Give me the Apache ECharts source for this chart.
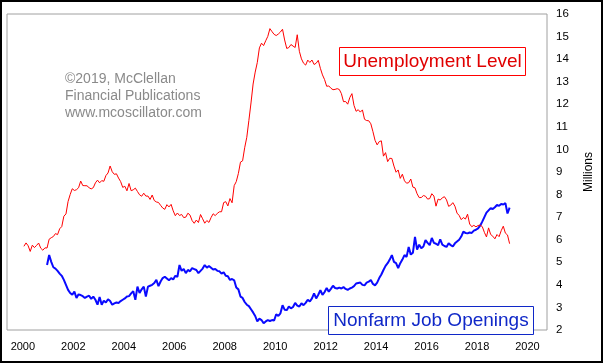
<!DOCTYPE html>
<html>
<head>
<meta charset="utf-8">
<script src="https://cdn.jsdelivr.net/npm/echarts@6/dist/echarts.min.js"></script>
<style>
html,body{margin:0;padding:0;background:#fff;}
#chart{width:603px;height:363px;}
</style>
</head>
<body>
<div id="chart"></div>
<script>
// Unemployment level (millions), monthly from Jan 2000
const unempStart = [2000, 1];
const unemployment = [
5.708,5.858,5.733,5.481,5.758,5.651,5.747,5.853,5.625,5.534,5.639,5.634,
6.023,6.089,6.141,6.271,6.226,6.484,6.583,7.042,7.142,7.694,8.003,8.258,
8.182,8.215,8.304,8.599,8.399,8.393,8.390,8.304,8.251,8.307,8.520,8.640,
8.520,8.618,8.588,8.842,8.957,9.266,9.011,8.896,8.921,8.732,8.576,8.317,
8.370,8.167,8.491,8.170,8.212,8.286,8.136,7.990,7.927,8.061,7.932,7.934,
7.784,7.980,7.737,7.672,7.651,7.524,7.406,7.345,7.553,7.453,7.566,7.279,
7.064,7.184,7.072,7.120,6.980,7.001,7.175,7.091,6.847,6.727,6.872,6.762,
7.116,6.927,6.731,6.850,6.766,6.979,7.149,7.067,7.170,7.237,7.240,7.645,
7.685,7.497,7.822,7.637,8.395,8.575,8.937,9.438,9.494,10.074,10.538,11.286,
12.058,12.898,13.426,13.853,14.499,14.707,14.601,14.814,15.009,15.352,15.219,15.098,
15.046,15.113,15.202,15.325,14.849,14.474,14.512,14.648,14.579,14.516,15.081,14.348,
14.013,13.820,13.737,13.957,13.855,13.962,13.763,13.818,13.948,13.594,13.302,13.093,
12.797,12.813,12.713,12.646,12.660,12.692,12.656,12.471,12.115,12.124,12.005,12.298,
12.471,11.950,11.689,11.760,11.654,11.751,11.335,11.279,11.270,11.136,10.787,10.404,
10.202,10.349,10.380,9.702,9.859,9.460,9.608,9.599,9.262,8.990,9.090,8.717,
8.903,8.610,8.504,8.526,8.689,8.331,8.298,8.035,7.866,7.869,7.957,7.926,
7.800,7.821,8.038,7.935,7.486,7.800,7.757,7.857,7.905,7.767,7.479,7.531,
7.642,7.486,7.177,7.076,6.890,6.983,6.916,7.131,6.695,6.576,6.636,6.572,
6.628,6.650,6.580,6.327,6.123,6.524,6.231,6.156,6.039,6.229,6.135,6.399,
6.599,6.290,6.211,5.824
];

// Nonfarm job openings (millions), monthly from Dec 2000
const openStart = [2000, 12];
const jobOpenings = [
4.88,
5.32,5.02,4.78,4.72,4.62,4.50,4.40,4.22,4.00,3.78,3.64,3.56,
3.70,3.42,3.58,3.55,3.50,3.42,3.48,3.52,3.38,3.48,3.34,3.12,
3.46,3.12,3.30,3.22,3.36,3.28,3.12,3.18,3.22,3.20,3.28,3.34,
3.40,3.48,3.50,3.62,3.72,3.34,3.92,3.64,3.80,3.92,3.48,3.92,
3.96,4.00,4.08,4.22,3.94,4.15,4.30,4.36,4.28,4.20,4.30,4.24,
4.40,4.36,4.88,4.62,4.70,4.52,4.66,4.60,4.74,4.70,4.66,4.52,
4.62,4.72,4.88,4.76,4.84,4.76,4.68,4.70,4.62,4.60,4.50,4.56,
4.40,4.38,4.22,4.26,4.20,3.88,3.80,3.48,3.42,3.24,3.12,3.06,
2.92,2.78,2.62,2.38,2.50,2.44,2.30,2.38,2.44,2.40,2.44,2.42,
2.70,2.62,2.74,3.10,2.90,2.88,3.04,2.96,3.02,3.20,3.08,3.04,
3.18,3.10,3.20,3.34,3.26,3.40,3.62,3.40,3.56,3.76,3.56,3.68,
3.86,3.70,3.82,3.96,3.86,3.84,3.88,3.84,3.90,3.82,3.78,3.84,
3.88,3.94,4.06,4.08,4.10,4.00,3.98,4.10,4.14,4.22,4.04,3.98,
4.10,4.30,4.46,4.66,4.84,4.96,5.12,5.32,5.02,4.96,4.74,4.96,
5.12,5.32,5.24,5.68,5.34,5.42,6.12,5.56,5.78,5.62,5.70,5.98,
5.86,5.76,6.08,5.86,5.82,5.76,6.02,5.78,5.72,5.68,5.84,5.76,
5.70,5.84,5.92,6.00,6.14,6.36,6.30,6.28,6.32,6.30,6.40,6.44,
6.50,6.62,6.80,7.00,7.20,7.30,7.40,7.36,7.44,7.54,7.50,7.58,
7.56,7.62,7.16,7.42
];

const yearLabels = [2000,2002,2004,2006,2008,2010,2012,2014,2016,2018,2020];
const yTicks = {min: 2, max: 16, interval: 1};

function toSeries(start, values) {
  return values.map((v, i) => {
    const m = start[1] - 1 + i;
    const x = start[0] + Math.floor(m / 12) + ((m % 12) + 0.5) / 12;
    return [x, v];
  });
}

const chart = echarts.init(document.getElementById('chart'), null, {renderer: 'canvas'});
const FONT = '"Liberation Sans", Arial, sans-serif';

chart.setOption({
  animation: false,
  backgroundColor: '#ffffff',
  grid: {
    left: 7, top: 14, width: 545, height: 316,
    show: true, borderColor: '#a0a0a0', borderWidth: 1, backgroundColor: 'transparent'
  },
  xAxis: {
    type: 'value',
    min: 1999.371, max: 2020.774,
    axisLine: {show: false},
    axisTick: {show: false},
    splitLine: {show: false},
    axisLabel: {
      customValues: yearLabels,
      formatter: v => String(Math.round(v)),
      color: '#000', fontFamily: FONT, fontSize: 11, margin: 11
    }
  },
  yAxis: {
    type: 'value',
    position: 'right',
    min: yTicks.min, max: yTicks.max, interval: yTicks.interval,
    axisLine: {show: false},
    axisTick: {show: false},
    splitLine: {show: false},
    axisLabel: {color: '#000', fontFamily: FONT, fontSize: 11.5, margin: 9},
    name: 'Millions',
    nameLocation: 'middle',
    nameRotate: 90,
    nameGap: 36,
    nameTextStyle: {color: '#000', fontFamily: FONT, fontSize: 12}
  },
  series: [
    {
      name: 'Nonfarm Job Openings', type: 'line', data: toSeries(openStart, jobOpenings),
      showSymbol: false, symbol: 'none', z: 2,
      lineStyle: {color: '#0a0aff', width: 2}
    },
    {
      name: 'Unemployment Level', type: 'line', data: toSeries(unempStart, unemployment),
      showSymbol: false, symbol: 'none', z: 3,
      lineStyle: {color: '#ff0000', width: 1}
    }
  ],
  graphic: [
    {type: 'rect', z: 100, silent: true,
     shape: {x: 1, y: 1, width: 601, height: 361},
     style: {fill: null, stroke: '#000', lineWidth: 2}},
    {type: 'text', z: 100, left: 65, top: 72,
     style: {text: '©2019, McClellan', font: '14px ' + FONT, fill: '#8a8a8a'}},
    {type: 'text', z: 100, left: 65, top: 89,
     style: {text: 'Financial Publications', font: '14px ' + FONT, fill: '#8a8a8a'}},
    {type: 'text', z: 100, left: 65, top: 106,
     style: {text: 'www.mcoscillator.com', font: '14px ' + FONT, fill: '#8a8a8a'}},
    {type: 'group', z: 100, left: 339, top: 47, children: [
      {type: 'rect', shape: {x: 0.5, y: 0.5, width: 186, height: 28},
       style: {fill: '#fff', stroke: '#ff0000', lineWidth: 1}},
      {type: 'text', x: 93.5, y: 15,
       style: {text: 'Unemployment Level', font: '19px ' + FONT, fill: '#e00000',
               textAlign: 'center', textVerticalAlign: 'middle'}}
    ]},
    {type: 'group', z: 100, left: 328, top: 306, children: [
      {type: 'rect', shape: {x: 0.5, y: 0.5, width: 205, height: 28},
       style: {fill: '#fff', stroke: '#1028c8', lineWidth: 1}},
      {type: 'text', x: 103, y: 15,
       style: {text: 'Nonfarm Job Openings', font: '19px ' + FONT, fill: '#1028c8',
               textAlign: 'center', textVerticalAlign: 'middle'}}
    ]}
  ]
});
</script>
</body>
</html>
